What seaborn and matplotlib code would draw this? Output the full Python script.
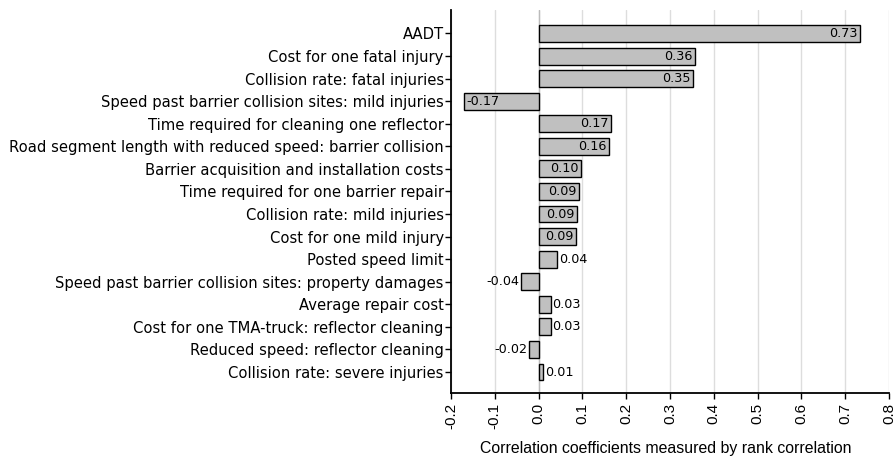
import matplotlib
matplotlib.use("Agg")
import matplotlib.pyplot as plt
import seaborn as sns
import pandas as pd

categories = [
    "AADT",
    "Cost for one fatal injury",
    "Collision rate: fatal injuries",
    "Speed past barrier collision sites: mild injuries",
    "Time required for cleaning one reflector",
    "Road segment length with reduced speed: barrier collision",
    "Barrier acquisition and installation costs",
    "Time required for one barrier repair",
    "Collision rate: mild injuries",
    "Cost for one mild injury",
    "Posted speed limit",
    "Speed past barrier collision sites: property damages",
    "Average repair cost",
    "Cost for one TMA-truck: reflector cleaning",
    "Reduced speed: reflector cleaning",
    "Collision rate: severe injuries",
]
values = [0.733, 0.356, 0.352, -0.170, 0.165, 0.161, 0.097, 0.092, 0.088, 0.085,
          0.042, -0.040, 0.028, 0.028, -0.022, 0.010]
labels = ["0.73", "0.36", "0.35", "-0.17", "0.17", "0.16", "0.10", "0.09", "0.09", "0.09",
          "0.04", "-0.04", "0.03", "0.03", "-0.02", "0.01"]
xticks = [-0.2, -0.1, 0.0, 0.1, 0.2, 0.3, 0.4, 0.5, 0.6, 0.7, 0.8]

df = pd.DataFrame({"param": categories, "corr": values})

sns.set_theme(style="white")
plt.rcParams['font.family'] = ['DejaVu Sans']
plt.rcParams['text.color'] = 'black'
plt.rcParams['axes.labelcolor'] = 'black'
plt.rcParams['xtick.color'] = 'black'
plt.rcParams['ytick.color'] = 'black'

fig = plt.figure(figsize=(8.96, 4.59), dpi=100)
ax = fig.add_axes([451/896, 1 - 393/459, (889 - 451)/896, (393 - 10)/459])

sns.barplot(data=df, x="corr", y="param", orient="h", color="#c0c0c0",
            edgecolor="black", linewidth=1.0, width=0.75, saturation=1, ax=ax, zorder=3)

ax.set_xlim(-0.2, 0.8)
ax.set_ylim(len(categories) - 1 + 0.93, -1.04)
ax.set_xticks(xticks)
ax.set_xticklabels([f"{t:.1f}" for t in xticks], rotation=90,
                   fontfamily="Liberation Sans", fontsize=11, color="black")
ax.xaxis.grid(True, color="#dddddd", linewidth=1.0, zorder=0)
ax.axvline(0, color="#bbbbbb", linewidth=1.0, zorder=1)
ax.set_xlabel("Correlation coefficients measured by rank correlation",
              fontfamily="Liberation Sans", fontsize=11.4, color="black")
ax.xaxis.set_label_coords(0.49, -0.125)
ax.set_ylabel("")
ax.tick_params(axis="y", labelsize=10.6, length=4, width=1, colors="black", left=True, pad=1.2)
ax.tick_params(axis="x", length=4, width=1, colors="black", bottom=True, pad=3)
for s in ["top", "right"]:
    ax.spines[s].set_visible(False)
for s in ["left", "bottom"]:
    ax.spines[s].set_color("black")
    ax.spines[s].set_linewidth(1.3)

for patch, v, lab in zip(ax.patches, values, labels):
    yc = patch.get_y() + patch.get_height() / 2
    if abs(v) >= 0.085:
        if v > 0:
            ax.text(v - 0.005, yc, lab, ha="right", va="center", fontsize=9.2, color="black", zorder=4)
        else:
            ax.text(v + 0.005, yc, lab, ha="left", va="center", fontsize=9.2, color="black", zorder=4)
    else:
        if v > 0:
            ax.text(v + 0.004, yc, lab, ha="left", va="center", fontsize=9.2, color="black", zorder=4)
        else:
            ax.text(v - 0.004, yc, lab, ha="right", va="center", fontsize=9.2, color="black", zorder=4)

fig.savefig("out.png", dpi=100)
